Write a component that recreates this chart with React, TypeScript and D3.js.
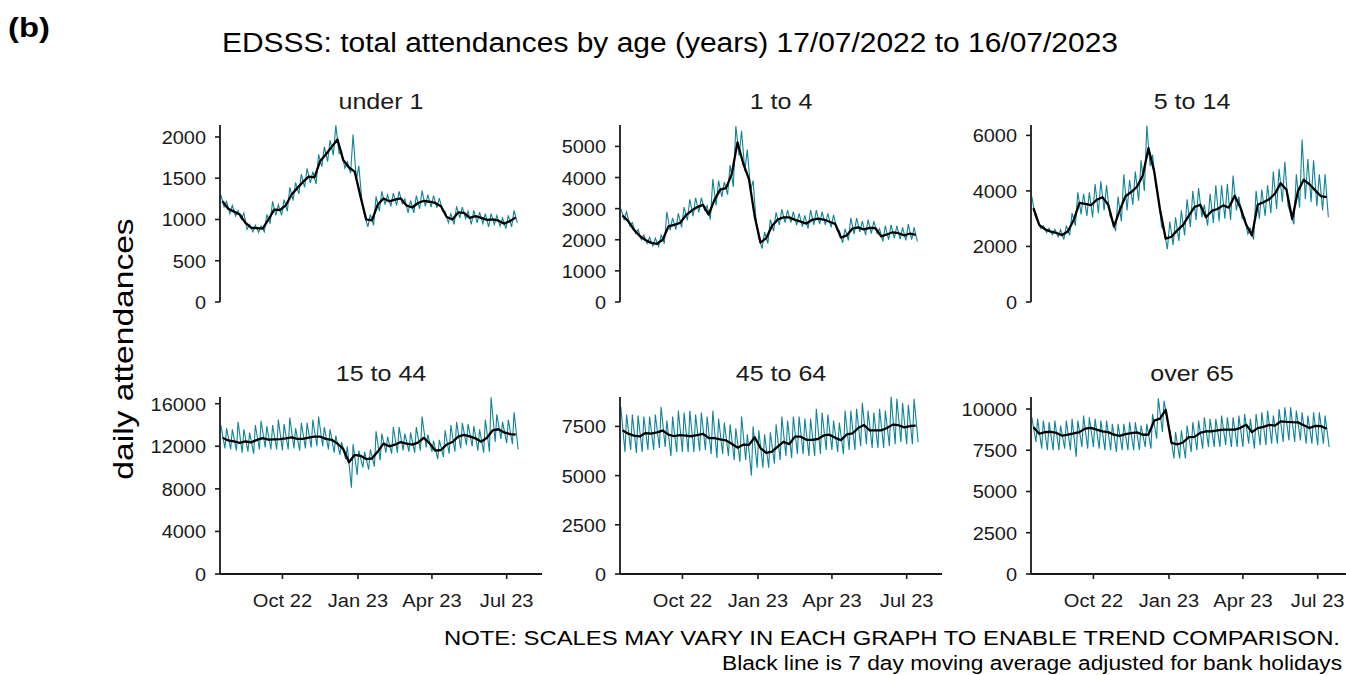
import React from "react";
import * as d3 from "d3";

// facets, in reading order
const groups = ["under 1", "1 to 4", "5 to 14", "15 to 44", "45 to 64", "over 65"];

// y axis top and ticks per facet (free y scales)
const yMax = [2145, 5687, 6374, 16630, 8994, 10727];
const yTicks = [
  [0, 500, 1000, 1500, 2000],
  [0, 1000, 2000, 3000, 4000, 5000],
  [0, 2000, 4000, 6000],
  [0, 4000, 8000, 12000, 16000],
  [0, 2500, 5000, 7500],
  [0, 2500, 5000, 7500, 10000],
];

const xTickDates = [Date.UTC(2022, 9, 1), Date.UTC(2023, 0, 1), Date.UTC(2023, 3, 1), Date.UTC(2023, 6, 1)];
const xTickLabels = ["Oct 22", "Jan 23", "Apr 23", "Jul 23"];
const startDay = Date.UTC(2022, 6, 17);
const axisEnd = Date.UTC(2023, 7, 13);

// day-of-week (0 = Sunday) of weekly high and low in the daily counts
const peakDay = [1, 1, 1, 1, 1, 1];
const troughDay = [5, 5, 5, 6, 6, 6];

// 7 day moving average, one value per week (mid week)
const maUnder1 = [1220,1130,1095,1060,960,900,895,890,1000,1120,1115,1170,1300,1380,1455,1520,1510,1710,1790,1880,1970,1720,1630,1580,1280,1000,990,1180,1255,1220,1240,1255,1170,1145,1200,1225,1215,1200,1160,1030,1000,1085,1080,1020,1040,1020,995,1000,985,950,980,1025];
const ma1to4 = [2780,2600,2320,2120,1990,1900,1870,2000,2430,2480,2540,2780,2930,3050,3120,2810,3280,3610,3660,4100,5130,4450,3950,2750,1910,2050,2440,2650,2720,2720,2640,2580,2520,2640,2680,2650,2580,2510,2070,2140,2360,2400,2330,2380,2370,2110,2170,2240,2210,2140,2200,2160];
const ma5to14 = [3380,2780,2620,2530,2485,2410,2550,2950,3570,3530,3485,3680,3775,3500,2720,3300,3810,3960,4150,4550,5540,4700,3330,2280,2350,2580,2770,3100,3420,3500,3050,3280,3350,3480,3400,3830,3400,2780,2400,3500,3590,3700,3900,4280,4040,2990,4000,4400,4240,4020,3810,3780];
const ma15to44 = [12800,12550,12450,12320,12450,12370,12600,12770,12620,12650,12680,12750,12840,12700,12700,12820,12900,12900,12690,12610,12250,11750,10500,11200,11100,10800,10850,11500,12250,12000,12150,12400,12250,12150,12350,12800,12300,11600,11650,12170,12400,12900,13070,12930,12750,12420,12800,13500,13600,13300,13150,13100];
const ma45to64 = [7300,7130,7030,6990,7160,7130,7200,7290,7080,7000,7060,7030,7000,7060,7120,6910,6900,6840,6790,6620,6420,6570,6560,6950,6400,6150,6220,6470,6720,6600,6980,6980,6820,6820,6860,7040,7080,6920,6800,7090,7140,7420,7570,7300,7300,7300,7420,7590,7560,7450,7520,7540];
const maOver65 = [8900,8500,8600,8620,8550,8380,8450,8520,8600,8810,8850,8750,8650,8600,8440,8370,8480,8540,8580,8440,8450,9300,9420,9950,7950,7850,7970,8300,8310,8550,8640,8650,8700,8750,8750,8750,8860,9050,8600,8840,8920,9040,8990,9250,9220,9200,9190,9020,8850,8980,8960,8800];

// daily attendances: weekly high
const hiUnder1 = [1300,1220,1170,1110,1080,940,930,920,1060,1220,1180,1240,1390,1450,1550,1620,1580,1790,1880,1960,2140,1830,1700,2030,1650,1050,1060,1280,1340,1300,1320,1340,1250,1230,1290,1350,1300,1290,1260,1100,1070,1160,1150,1100,1110,1090,1070,1070,1050,1020,1050,1110];
const hi1to4 = [3000,2900,2550,2330,2150,2080,2050,2150,2900,2700,2850,3050,3300,3350,3350,3100,3950,3900,3850,4400,5650,5500,4900,3900,2050,2250,2650,2880,2980,2950,2900,2850,2780,2950,2950,2900,2850,2800,2300,2350,2700,2700,2600,2650,2600,2350,2450,2480,2450,2400,2500,2400];
const hi5to14 = [3800,2900,2750,2650,2620,2600,2750,3200,3950,3900,3950,4250,4350,4200,2950,3800,4600,4400,4700,5100,6350,5300,3800,2600,2900,3050,3300,3700,4000,4100,3500,3900,4200,4200,4250,4550,3800,3050,2650,4000,4050,4200,4700,4800,5050,3200,4600,5850,5150,5100,4600,4600];
const hi15to44 = [14000,13700,13600,14300,13600,13300,14000,14400,13900,14000,14500,14100,14700,13700,14200,14200,14500,14800,13800,13600,13000,12400,12000,12200,11600,11500,11700,13400,13200,12900,13800,13800,13200,13300,13800,14800,13100,12500,12600,13500,14000,14300,14200,14100,13900,13600,14500,16600,15000,14300,14500,15200];
const hi45to64 = [8500,8100,8100,8050,8000,8000,8100,8500,7800,8000,8300,8200,8300,8100,8200,8000,8300,7900,7700,7600,7400,8000,7100,7500,7300,7100,7200,7600,8000,7800,8000,8000,7900,7900,8400,8200,8100,7800,7700,8300,8300,8400,8700,8300,8200,8400,8300,9000,8900,8700,8600,8900];
const hiOver65 = [9500,9400,9300,9200,9300,9000,9300,9400,9300,9600,9500,9400,9300,9300,9100,9100,9100,9200,9200,9000,9100,9700,10650,10500,8700,8600,8700,9000,9200,9300,9500,9400,9400,9600,9500,9500,9600,9700,9400,9700,9800,9900,9600,10000,10100,10100,9900,9800,9600,9800,9800,9600];

// daily attendances: weekly low
const loUnder1 = [1150,1070,1040,1000,880,850,845,850,950,1050,1050,1100,1230,1310,1390,1440,1430,1640,1700,1780,1800,1620,1560,1480,1200,910,930,1100,1180,1160,1170,1190,1080,1080,1130,1160,1150,1140,1100,960,940,1020,1010,940,960,950,910,940,920,890,910,960];
const lo1to4 = [2650,2450,2200,2000,1880,1800,1790,1880,2300,2330,2400,2620,2760,2880,2950,2650,3100,3380,3450,3700,4700,4200,3600,2500,1720,1880,2280,2480,2550,2550,2470,2420,2360,2480,2500,2480,2400,2330,1900,1980,2180,2250,2150,2200,2200,1950,2000,2050,2020,1980,2000,1950];
const lo5to14 = [3100,2650,2500,2420,2350,2250,2400,2750,3150,3100,3050,3200,3300,3100,2550,2900,3300,3500,3650,4000,4900,4200,2700,1900,2050,2200,2400,2700,2950,3050,2750,2850,2900,3000,2950,3300,3000,2450,2250,3000,3100,3200,3350,3600,3450,2800,3400,3700,3600,3450,3300,3050];
const lo15to44 = [11800,11700,11600,11400,11500,11300,11700,11900,11700,11700,11600,11700,11800,11600,11800,11900,12000,12000,11700,11400,11200,10800,8100,9300,10000,9800,10100,10700,11400,11300,11400,11600,11500,11400,11600,11900,11500,10800,11000,11300,11500,11800,12100,12000,11600,11400,11500,12400,12700,12300,12200,11700];
const lo45to64 = [6200,6300,6150,6200,6300,6300,6400,6450,6000,6200,6200,6200,6200,6250,6300,6100,5900,6100,6000,5800,5700,5800,5000,5400,5400,5400,5600,5800,6000,5900,6100,6100,6000,6000,6100,6300,6300,6200,6100,6300,6300,6500,6600,6400,6400,6400,6500,6600,6700,6600,6600,6700];
const loOver65 = [8000,7600,7500,7500,7500,7600,7500,7100,7700,7600,7700,7600,7500,7500,7400,7500,7500,7500,7500,7700,7600,8200,8600,9000,7000,7000,7000,7400,7500,7600,7700,7700,7700,7800,7700,7700,7700,7900,7600,7800,7800,7900,7900,8000,8100,8000,8100,7900,7900,7800,7900,7700];

const maAll = [maUnder1, ma1to4, ma5to14, ma15to44, ma45to64, maOver65];
const hiAll = [hiUnder1, hi1to4, hi5to14, hi15to44, hi45to64, hiOver65];
const loAll = [loUnder1, lo1to4, lo5to14, lo15to44, lo45to64, loOver65];

// layout
const panelLeft = [220, 620, 1031];
const rowTop = [125, 397];
const panelW = 322;
const panelH = 177;
const FONT = "'Liberation Sans', Arial, Helvetica, sans-serif";
const TEAL = "#0f8496";
const INK = "#1a1a1a";

const DAY = 864e5;
const dayDate = (d: number) => new Date(startDay + d * DAY);

const x = d3.scaleUtc().domain([new Date(startDay), new Date(axisEnd)]).range([0, panelW]);

function Panel({ i }: { i: number }) {
  const col = i % 3;
  const row = Math.floor(i / 3);
  const left = panelLeft[col];
  const top = rowTop[row];
  const y = d3.scaleLinear().domain([0, yMax[i]]).range([panelH, 0]);

  const daily: [number, number][] = [];
  hiAll[i].forEach((h, k) => {
    daily.push([7 * k + peakDay[i], h]);
    daily.push([7 * k + troughDay[i], loAll[i][k]]);
  });
  const avg: [number, number][] = maAll[i].map((v, k) => [7 * k + 3, v]);

  const line = d3
    .line<[number, number]>()
    .x((d) => x(dayDate(d[0])))
    .y((d) => y(d[1]));

  return (
    <g transform={`translate(${left},${top})`}>
      <text
        transform={`translate(${panelW / 2},-16) scale(1.14,1)`}
        textAnchor="middle"
        fontSize={22}
        fill={INK}
      >
        {groups[i]}
      </text>
      <path d={line(daily) || ""} fill="none" stroke={TEAL} strokeWidth={1.1} />
      <path d={line(avg) || ""} fill="none" stroke="#000" strokeWidth={2.3} strokeLinejoin="round" />
      {/* y axis */}
      <line x1={0} x2={0} y1={0} y2={panelH} stroke={INK} strokeWidth={1.8} />
      {yTicks[i].map((t) => (
        <g key={t} transform={`translate(0,${y(t)})`}>
          <line x1={-5} x2={0} stroke={INK} strokeWidth={1.6} />
          <text
            transform={`translate(-14,7) scale(1.05,1)`}
            textAnchor="end"
            fontSize={19}
            fill={INK}
          >
            {t}
          </text>
        </g>
      ))}
      {/* x axis only on bottom row */}
      {row === 1 && (
        <g transform={`translate(0,${panelH})`}>
          <line x1={0} x2={panelW} stroke={INK} strokeWidth={1.8} />
          {xTickDates.map((t, j) => (
            <g key={t} transform={`translate(${x(new Date(t))},0)`}>
              <line y1={0} y2={5} stroke={INK} strokeWidth={1.6} />
              <text
                transform={`translate(0,33) scale(1.06,1)`}
                textAnchor="middle"
                fontSize={19}
                fill={INK}
              >
                {xTickLabels[j]}
              </text>
            </g>
          ))}
        </g>
      )}
    </g>
  );
}

export default function App() {
  return (
    <svg
      width={1346}
      height={675}
      style={{ position: "absolute", left: 0, top: 0, background: "#fff" }}
      fontFamily={FONT}
    >
      <rect width={1346} height={675} fill="#fff" />
      <text transform="translate(8,37) scale(1.17,1)" fontSize={28} fontWeight="bold" fill="#000">
        (b)
      </text>
      <text x={222} y={52} fontSize={27} textLength={896} lengthAdjust="spacingAndGlyphs" fill="#000">
        EDSSS: total attendances by age (years) 17/07/2022 to 16/07/2023
      </text>
      <text
        transform="translate(133,349) rotate(-90) scale(1.2,1)"
        textAnchor="middle"
        fontSize={28}
        fill="#000"
      >
        daily attendances
      </text>
      {groups.map((g, i) => (
        <Panel key={g} i={i} />
      ))}
      <text x={444} y={645} fontSize={20} textLength={896} lengthAdjust="spacingAndGlyphs" fill="#000">
        NOTE: SCALES MAY VARY IN EACH GRAPH TO ENABLE TREND COMPARISON.
      </text>
      <text x={722} y={670} fontSize={20} textLength={620} lengthAdjust="spacingAndGlyphs" fill="#000">
        Black line is 7 day moving average adjusted for bank holidays
      </text>
    </svg>
  );
}
